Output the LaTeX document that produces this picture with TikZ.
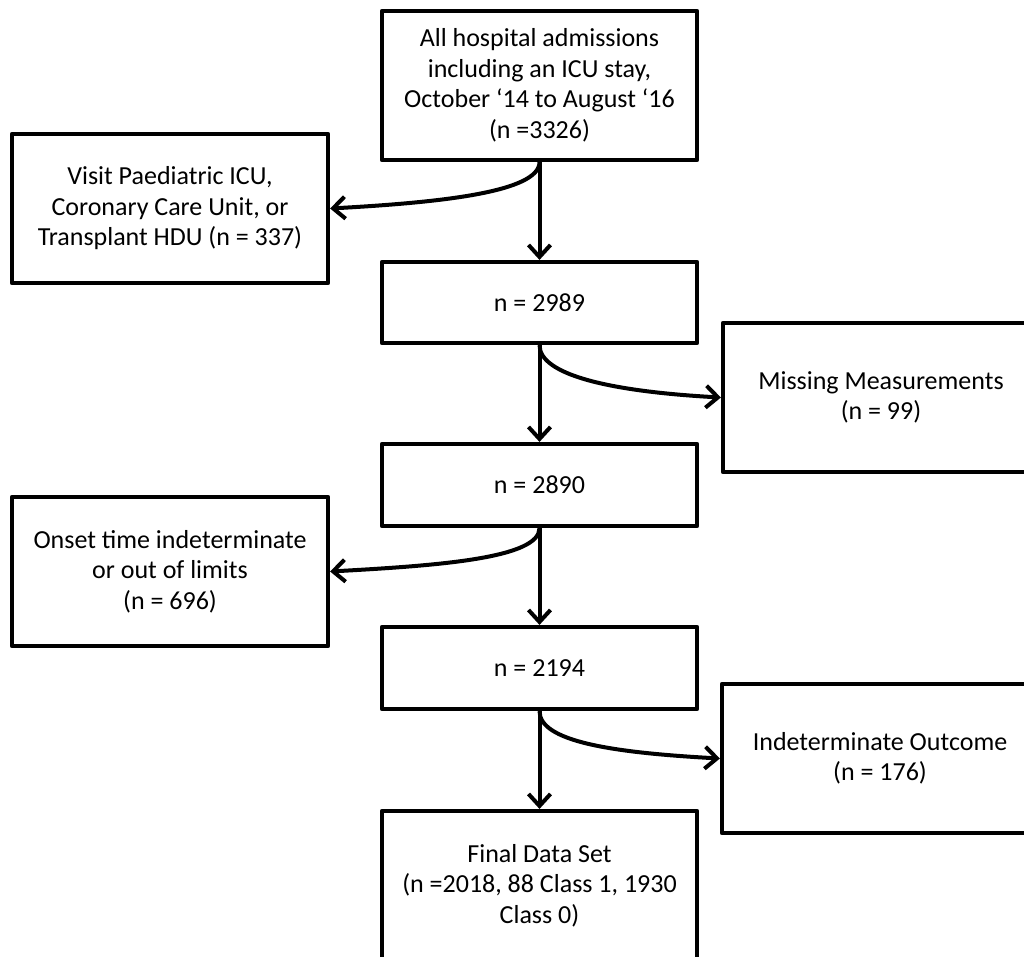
\documentclass[tikz,border=0pt]{standalone}
\usepackage{fontspec}
\setmainfont{Carlito}
\usetikzlibrary{arrows.meta}
\tikzset{
  box/.style={draw, line width=4.2pt, line join=round, align=center, inner sep=0pt,
    minimum width=315pt, font=\fontsize{26}{30.5}\selectfont},
  tall/.style={box, minimum height=149pt},
  short/.style={box, minimum height=81pt},
  conn/.style={line width=4pt, -{Straight Barb[length=12pt,width=22pt,line width=4pt]}}
}
\begin{document}
\begin{tikzpicture}[x=1pt,y=-1pt]
\useasboundingbox (0,0) rectangle (1024,956);
\clip (0,0) rectangle (1024,956);
\fill[white] (0,0) rectangle (1024,956);
\node[tall] (top) at (539.5,85.5) {All hospital admissions\\including an ICU stay,\\October ‘14 to August ‘16\\(n =3326)};
\node[tall, minimum width=316pt] (ex1) at (170,208.5) {Visit Paediatric ICU,\\Coronary Care Unit, or\\Transplant HDU (n = 337)};
\node[short] (n2989) at (539.5,302.5) {n = 2989};
\node[tall, minimum width=316pt] (ex2) at (881,397.5) {Missing Measurements\\(n = 99)};
\node[short, minimum height=82pt] (n2890) at (539.5,485) {n = 2890};
\node[tall, minimum width=316pt] (ex3) at (170,571.5) {Onset time indeterminate\\or out of limits\\(n = 696)};
\node[short, minimum height=82pt] (n2194) at (539.5,668) {n = 2194};
\node[tall, minimum width=316pt] (ex4) at (880,758.5) {Indeterminate Outcome\\(n = 176)};
\node[tall] (final) at (539.5,885.5) {Final Data Set\\(n =2018, 88 Class 1, 1930\\Class 0)};
\draw[conn] (top.south) -- (n2989.north);
\draw[conn] (n2989.south) -- (n2890.north);
\draw[conn] (n2890.south) -- (n2194.north);
\draw[conn] (n2194.south) -- (final.north);
\draw[conn] (top.south) .. controls +(0,30) and +(110,-6) .. (ex1.east);
\draw[conn] (n2989.south) .. controls +(0,30) and +(-110,-6) .. (ex2.west);
\draw[conn] (n2890.south) .. controls +(0,30) and +(110,-6) .. (ex3.east);
\draw[conn] (n2194.south) .. controls +(0,30) and +(-110,-6) .. (ex4.west);
\end{tikzpicture}
\end{document}
